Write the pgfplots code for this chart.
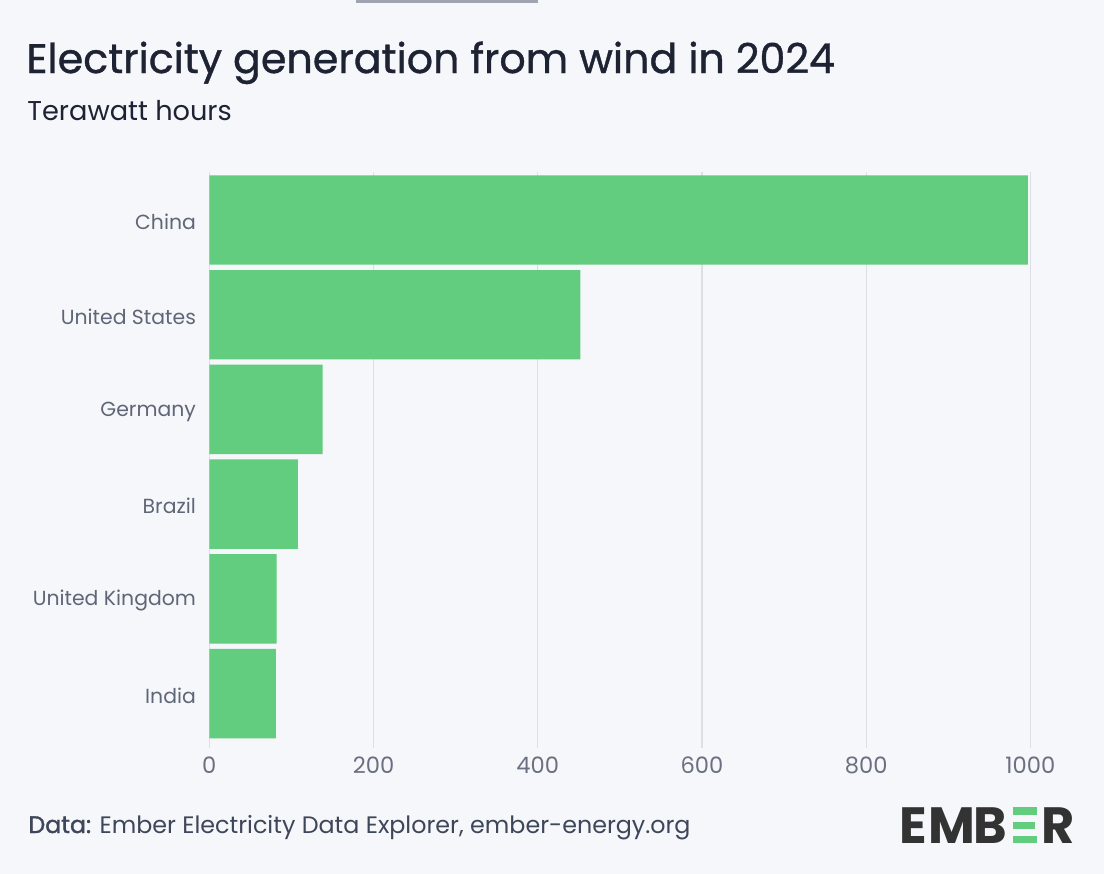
\documentclass[border=0pt]{standalone}
\usepackage{fontspec}
\setmainfont{Poppins}
\newfontfamily\medfont{Poppins}[FakeBold=0.9]
\newfontfamily\semifont{Poppins}[FakeBold=1.6]
\usepackage{pgfplots}
\pgfplotsset{compat=1.18}

\definecolor{bg}{HTML}{F5F7FA}
\definecolor{bargreen}{HTML}{62CD7E}
\definecolor{titlecol}{HTML}{1E2333}
\definecolor{labelcol}{HTML}{5F6677}
\definecolor{tickcol}{HTML}{6B7080}
\definecolor{gridcol}{HTML}{DCDFE5}
\definecolor{footcol}{HTML}{3E4659}
\definecolor{logocol}{HTML}{333333}
\definecolor{tabcol}{HTML}{A0A4B0}

\begin{document}
\begin{tikzpicture}[x=0.5bp, y=-0.5bp]
  % page: 1104 x 874 px, 1 px = 0.5 bp
  \fill[bg] (0,0) rectangle (1104,874);
  \fill[tabcol] (356,0) rectangle (538,2.5);

  \node[anchor=base west, inner sep=0pt, text=titlecol,
        font=\medfont\fontsize{20.6bp}{24bp}\selectfont] at (26,73)
        {Electricity generation from wind in 2024};
  \node[anchor=base west, inner sep=0pt, text=titlecol,
        font=\fontsize{13.6bp}{16bp}\selectfont] at (27,120)
        {Terawatt hours};

  \begin{axis}[
      at={(104.65bp,-86bp)}, anchor=north west,
      scale only axis,
      width=410.5bp, height=288bp,
      xbar, bar width=0.944,
      xmin=0, xmax=1000,
      ymin=-0.507, ymax=5.575,
      y dir=reverse,
      ytick={0,1,2,3,4,5},
      yticklabels={China, United States, Germany, Brazil, United Kingdom, India},
      xtick={0,200,400,600,800,1000},
      xmajorgrids,
      grid style={gridcol, line width=0.6bp},
      axis line style={draw=none},
      major tick length=0pt,
      tick style={draw=none},
      /pgf/number format/assume math mode=true,
      /pgf/number format/1000 sep={},
      xticklabel style={font=\fontsize{11.3bp}{13bp}\selectfont, text=tickcol,
                        inner sep=0pt, anchor=north, yshift=-4bp},
      yticklabel style={font=\fontsize{10.2bp}{13bp}\selectfont, text=labelcol,
                        inner sep=0pt, anchor=east, xshift=-6.5bp, yshift=-1bp},
    ]
    \addplot[fill=bargreen, draw=none] coordinates {
      (997,0) (452,1) (138,2) (108,3) (82,4) (81,5)
    };
  \end{axis}

  \node[anchor=base west, inner sep=0pt, text=footcol,
        font=\fontsize{11.9bp}{14bp}\selectfont] at (28,833)
        {{\semifont Data:} Ember Electricity Data Explorer, ember-energy.org};

  % logo, letter by letter
  \tikzset{logo/.style={anchor=base west, inner sep=0pt, text=logocol,
                        font=\fontsize{25.5bp}{28bp}\selectfont\bfseries}}
  \node[logo] at (899,843) {E};
  \node[logo] at (928,843) {M};
  \node[logo] at (973,843) {B};
  \fill[bargreen] (1013,807) rectangle (1037,814.5);
  \fill[bargreen] (1013,821.5) rectangle (1035,829);
  \fill[bargreen] (1013,836) rectangle (1037,843);
  \node[logo] at (1041,843) {R};
\end{tikzpicture}
\end{document}
